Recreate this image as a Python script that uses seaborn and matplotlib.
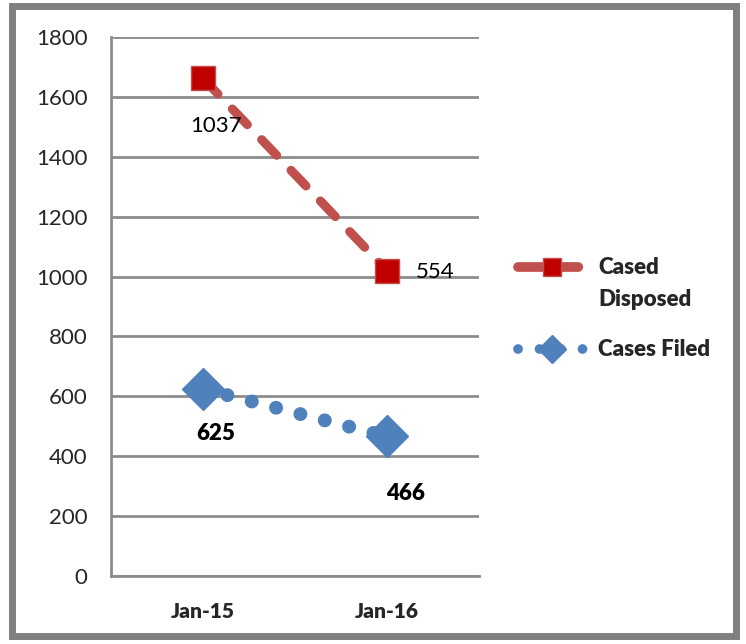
import matplotlib
matplotlib.use("Agg")
import matplotlib.pyplot as plt
import seaborn as sns
import pandas as pd
from matplotlib.patches import Rectangle
from matplotlib.lines import Line2D

# data
months = ["Jan-15", "Jan-16"]
cases_filed = [625, 466]
cased_disposed = [1037, 554]

# stacked line: disposed sits on top of filed
disposed_stacked = [f + d for f, d in zip(cases_filed, cased_disposed)]

df = pd.DataFrame({
    "month": months * 2,
    "value": disposed_stacked + cases_filed,
    "series": ["Cased Disposed"] * 2 + ["Cases Filed"] * 2,
})

sns.set_theme(style="white")
plt.rcParams['font.family'] = ['Lato', 'DejaVu Sans']

red_line = "#C0504D"
red_mark = "#C00000"
blue = "#4F81BD"
grid_col = "#8C8C8C"

fig = plt.figure(figsize=(7.46, 6.44), dpi=100)
ax = fig.add_axes([0.1488, 0.1056, 0.4933, 0.8369])

sub_r = df[df["series"] == "Cased Disposed"]
sub_b = df[df["series"] == "Cases Filed"]
sns.lineplot(data=sub_r, x="month", y="value", ax=ax, color=red_line, lw=6.5,
             sort=False, zorder=3)
ln = ax.lines[-1]
ln.set_dashes([2.4, 2.3])
ln.set_dash_capstyle("round")
ln.set_marker("s")
ln.set_markersize(17)
ln.set_markerfacecolor(red_mark)
ln.set_markeredgecolor(red_line)
ln.set_markeredgewidth(1)

sns.lineplot(data=sub_b, x="month", y="value", ax=ax, color=blue, lw=10,
             sort=False, zorder=3)
ln = ax.lines[-1]
ln.set_dashes([0.01, 1.8])
ln.set_dash_capstyle("round")
ln.set_marker("D")
ln.set_markersize(21)
ln.set_markerfacecolor(blue)
ln.set_markeredgecolor(blue)
ln.set_markeredgewidth(1)

ax.set_xlim(-0.5, 1.5)
ax.set_ylim(0, 1800)
ax.set_yticks(range(0, 1801, 200))
ax.set_xticks([0, 1])
ax.set_xticklabels(months, fontweight="heavy", fontsize=15)
ax.set_xticks([-0.5, 0.5, 1.5], minor=True)
ax.tick_params(axis="x", which="major", length=0, pad=19)
ax.tick_params(axis="x", which="minor", length=7, width=2, color=grid_col, direction="out")
ax.tick_params(axis="y", length=8, width=2, color=grid_col, direction="out", labelsize=16, pad=9)
ax.set_xlabel("")
ax.set_ylabel("")
ax.grid(axis="y", color=grid_col, lw=2)
ax.grid(axis="x", visible=False)
for s in ["top", "right"]:
    ax.spines[s].set_visible(False)
for s in ["left", "bottom"]:
    ax.spines[s].set_color(grid_col)
    ax.spines[s].set_linewidth(2)

# data labels
ax.text(0.07, disposed_stacked[0] - 160, str(cased_disposed[0]), fontsize=16,
        ha="center", va="center", color="black")
ax.text(1.26, disposed_stacked[1] - 5, str(cased_disposed[1]), fontsize=16,
        ha="center", va="center", color="black")
ax.text(0.07, cases_filed[0] - 148, str(cases_filed[0]), fontsize=16,
        fontweight="heavy", ha="center", va="center", color="black")
ax.text(1.1, cases_filed[1] - 189, str(cases_filed[1]), fontsize=16,
        fontweight="heavy", ha="center", va="center", color="black")

# legend
h_r = Line2D([], [], color=red_line, lw=7, dashes=[2.6, 1.0], marker="s", markersize=13,
             markerfacecolor=red_mark, markeredgecolor=red_line)
h_r.set_dash_capstyle("round")
h_b = Line2D([], [], color=blue, lw=7, dashes=[0.01, 2.2], marker="D", markersize=14,
             markerfacecolor=blue, markeredgecolor=blue)
h_b.set_dash_capstyle("round")
leg_kw = dict(loc="center left", frameon=False, prop={"weight": "heavy", "size": 16},
              handlelength=3.0, handletextpad=0.6, borderaxespad=0, borderpad=0)
leg1 = fig.legend([h_r], ["Cased"], bbox_to_anchor=(0.695, 1 - 268 / 644), **leg_kw)
leg2 = fig.legend([h_b], ["Cases Filed"], bbox_to_anchor=(0.695, 1 - 350 / 644), **leg_kw)

fig.canvas.draw()
tx = leg1.get_texts()[0].get_window_extent().x0 / fig.bbox.width
fig.text(tx, 1 - 299 / 644, "Disposed", fontsize=16, fontweight="heavy",
         ha="left", va="center")

# outer frame
fig.patches.append(Rectangle((0.016, 0.012), 0.97, 0.978, transform=fig.transFigure,
                             fill=False, edgecolor="#7F7F7F", lw=5))

fig.savefig("out.png", dpi=100)
